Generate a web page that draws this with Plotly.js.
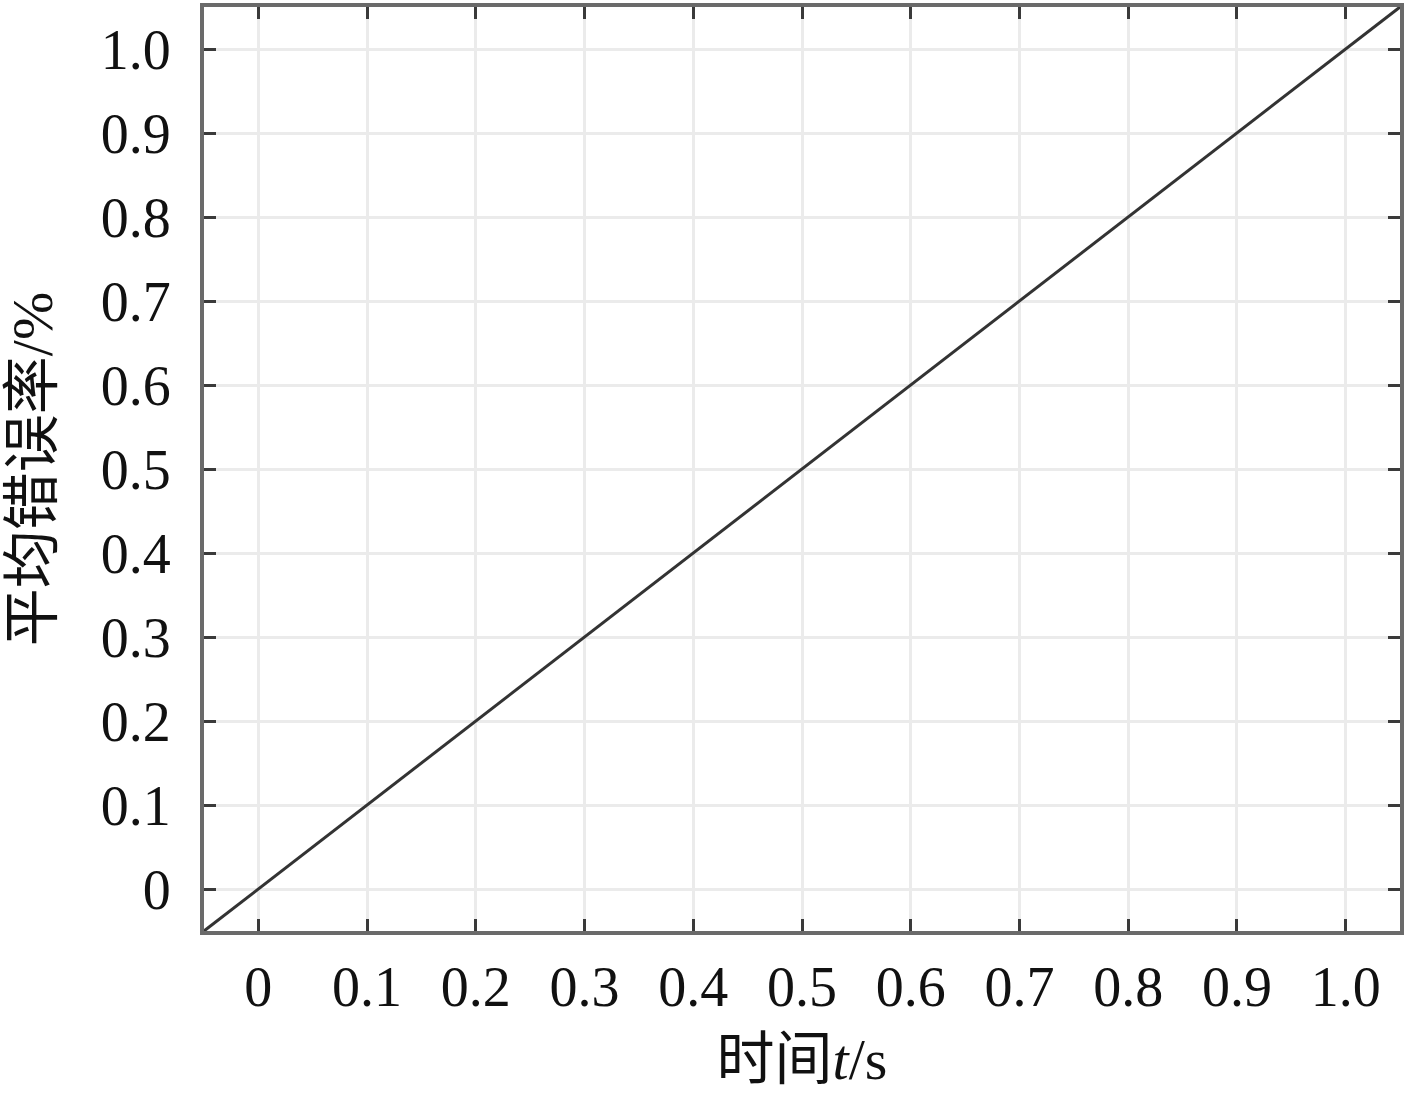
<!DOCTYPE html>
<html>
<head>
<meta charset="utf-8">
<script src="https://cdn.plot.ly/plotly-3.0.1.min.js"></script>
<style>html,body{margin:0;padding:0;background:#fff;}#chart{width:1417px;height:1108px;}</style>
</head>
<body>
<div id="chart"></div>
<script>
// Data
const timeS = [-0.05, 0, 0.1, 0.2, 0.3, 0.4, 0.5, 0.6, 0.7, 0.8, 0.9, 1.0, 1.05];
const errRate = [-0.05, 0, 0.1, 0.2, 0.3, 0.4, 0.5, 0.6, 0.7, 0.8, 0.9, 1.0, 1.05];
const tickVals = [0, 0.1, 0.2, 0.3, 0.4, 0.5, 0.6, 0.7, 0.8, 0.9, 1.0];
const tickText = ['0', '0.1', '0.2', '0.3', '0.4', '0.5', '0.6', '0.7', '0.8', '0.9', '1.0'];

const fontFam = '"Liberation Serif", "Times New Roman", "Noto Sans CJK SC", serif';

const axisCommon = {
  range: [-0.05, 1.05],
  tickmode: 'array',
  tickvals: tickVals,
  ticktext: tickText,
  ticks: 'inside',
  ticklen: 12,
  tickwidth: 3,
  tickcolor: '#3a3a3a',
  showline: true,
  linewidth: 4,
  linecolor: '#6a6a6a',
  mirror: 'ticks',
  showgrid: true,
  gridcolor: '#ebebeb',
  gridwidth: 3,
  zeroline: false,
  tickfont: {family: fontFam, size: 56, color: '#111'},
  automargin: false
};

const data = [{
  type: 'scatter',
  mode: 'lines',
  x: timeS,
  y: errRate,
  line: {color: '#333333', width: 3},
  hoverinfo: 'skip'
}];

const layout = {
  width: 1417,
  height: 1108,
  margin: {l: 204, r: 17, t: 7, b: 177},
  paper_bgcolor: '#ffffff',
  plot_bgcolor: '#ffffff',
  showlegend: false,
  xaxis: Object.assign({}, axisCommon, {
    ticklabelstandoff: 4,
    title: {text: '时间<i>t</i>/s', font: {family: fontFam, size: 58, color: '#111'}, standoff: 22}
  }),
  yaxis: Object.assign({}, axisCommon, {
    ticklabelstandoff: 18,
    title: {text: '平均错误率/%', font: {family: fontFam, size: 58, color: '#111'}, standoff: 30}
  })
};

Plotly.newPlot('chart', data, layout, {displayModeBar: false, staticPlot: true});
</script>
</body>
</html>
